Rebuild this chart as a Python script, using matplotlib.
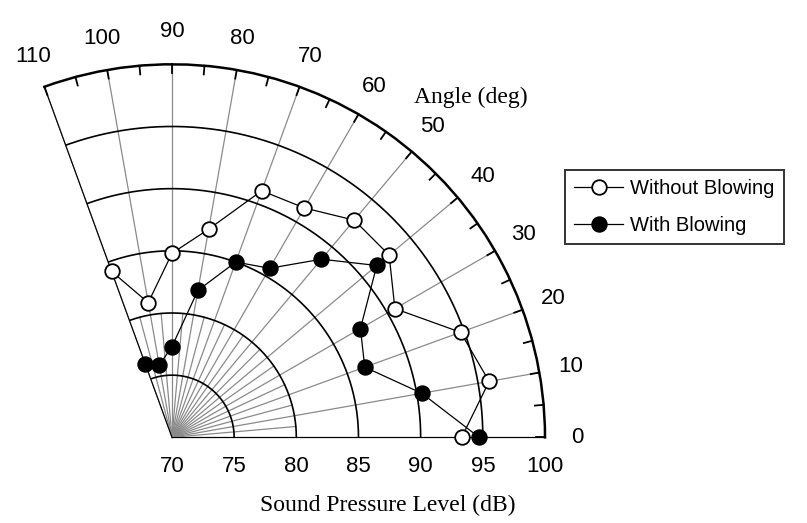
import numpy as np
import matplotlib
matplotlib.use("Agg")
import matplotlib.pyplot as plt
from matplotlib.transforms import offset_copy

# ---- data ----
angles_deg = [0, 10, 20, 30, 40, 50, 60, 70, 80, 90, 100, 110]
spl_without = [93.3, 95.9, 94.7, 90.7, 92.8, 92.8, 91.3, 91.1, 87.0, 84.8, 81.0, 84.2]
spl_with = [94.7, 90.4, 86.5, 87.5, 91.5, 88.7, 85.7, 85.0, 82.0, 77.3, 75.9, 76.3]
r_ticks = [70, 75, 80, 85, 90, 95, 100]
theta_ticks = [0, 10, 20, 30, 40, 50, 60, 70, 80, 90, 100, 110]
legend_labels = ["Without Blowing", "With Blowing"]

SANS = ["Liberation Sans", "DejaVu Sans"]
SERIF = ["Liberation Serif", "DejaVu Serif"]
GRAY = "#8a8a8a"

W, H = 807, 523
fig = plt.figure(figsize=(W / 100, H / 100), dpi=100)
# square axes box (polar wedge is fitted in a square), centred on the wedge
side = 500.6
cx, cy = 294.7, 248.5
ax = fig.add_axes([(cx - side / 2) / W, 1 - (cy + side / 2) / H, side / W, side / H],
                  projection="polar")
ax.set_thetamin(0)
ax.set_thetamax(110)
ax.set_rlim(70, 100)
ax.grid(False)
ax.set_xticks([])
ax.set_yticks([])
ax.spines["polar"].set_linewidth(1.8)
ax.spines["polar"].set_color("black")
for s in ("start", "end", "inner"):
    ax.spines[s].set_visible(False)

rmin, rmax = r_ticks[0], r_ticks[-1]

# radial grid lines
for t in range(0, 111, 5):
    th = np.deg2rad(t)
    if t % 10 == 0:
        ax.plot([th, th], [rmin, rmax], color=GRAY, lw=0.9, clip_on=False, zorder=1)
    else:
        ax.plot([th, th], [rmin, 80], color=GRAY, lw=0.9, clip_on=False, zorder=1)
    # outer ticks
    ax.plot([th, th], [rmax - 0.7, rmax], color="black", lw=1.3, clip_on=False, zorder=2)

# rings
tt = np.deg2rad(np.linspace(0, 110, 400))
for r in r_ticks[1:-1]:
    ax.plot(tt, np.full_like(tt, r), color="black", lw=1.2, zorder=2)

# data
ax.plot(np.deg2rad(angles_deg), spl_without, color="black", lw=0.9, marker="o",
        markersize=10.5, markerfacecolor="white", markeredgecolor="black",
        markeredgewidth=1.3, zorder=5, clip_on=False, label=legend_labels[0])
ax.plot(np.deg2rad(angles_deg), spl_with, color="black", lw=0.9, marker="o",
        markersize=10.5, markerfacecolor="black", markeredgecolor="black",
        markeredgewidth=1.3, zorder=5, clip_on=False, label=legend_labels[1])

# angle labels
for t in theta_ticks:
    ax.text(np.deg2rad(t), 102.6, str(t), ha="center", va="center",
            fontsize=16, family=SANS, clip_on=False)

# radius labels
tr = offset_copy(ax.transData, fig=fig, x=0, y=-29, units="dots")
for r in r_ticks:
    ax.text(0, r, str(r), transform=tr, ha="center", va="center",
            fontsize=16, family=SANS, clip_on=False)

fig.text(387.5 / W, 1 - 505 / H, "Sound Pressure Level (dB)", ha="center",
         va="center", fontsize=17, family=SERIF)
fig.text(471 / W, 1 - 97 / H, "Angle (deg)", ha="center", va="center",
         fontsize=17, family=SERIF)

leg = fig.legend(loc="upper left", bbox_to_anchor=(565 / W, 1 - 170 / H),
                 frameon=True, fancybox=False, edgecolor="black", borderaxespad=0,
                 prop={"family": SANS, "size": 14.5}, handlelength=2.45,
                 handletextpad=0.35, borderpad=0.45, labelspacing=0.9)
leg.get_frame().set_linewidth(1.4)

fig.savefig("out.png", dpi=100)
